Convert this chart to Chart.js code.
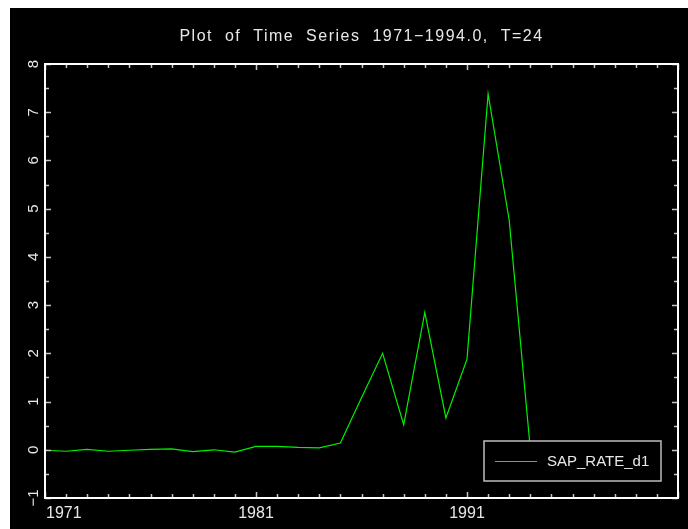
<!DOCTYPE html>
<html>
<head>
<meta charset="utf-8">
<style>
  html, body { margin: 0; padding: 0; background: #ffffff; overflow: hidden; }
  canvas { display: block; }
</style>
<script src="https://cdn.jsdelivr.net/npm/chart.js@4/dist/chart.umd.min.js"></script>
</head>
<body>
<canvas id="chart" width="688" height="529"></canvas>
<script>
// Annual series, first difference of SAP rate
const years = [1971, 1972, 1973, 1974, 1975, 1976, 1977, 1978, 1979, 1980, 1981, 1982,
               1983, 1984, 1985, 1986, 1987, 1988, 1989, 1990, 1991, 1992, 1993, 1994];
const sapRateD1 = [-0.01, -0.03, 0.01, -0.03, -0.01, 0.01, 0.02, -0.04, 0.00, -0.05, 0.07, 0.07,
                   0.05, 0.04, 0.14, 1.08, 2.00, 0.52, 2.85, 0.66, 1.88, 7.38, 4.76, 0.02];
const seriesName = 'SAP_RATE_d1';
const titleText = 'Plot of Time Series 1971\u22121994.0, T=24';

// Axis ranges and labelled ticks
const xRange = [1971, 2001];
const yRange = [-1, 8];
const xTickValues = [1971, 1981, 1991];
const xTickLabels = ['1971', '1981', '1991'];
const yTickValues = [-1, 0, 1, 2, 3, 4, 5, 6, 7, 8];
const yTickLabels = ['\u22121', '0', '1', '2', '3', '4', '5', '6', '7', '8'];

const FONT = '"Liberation Sans", Arial, sans-serif';
const TEXT = '#e8e8e8';
const LINE = '#00f000';

const framePlugin = {
  id: 'frame',
  beforeDraw(chart) {
    const ctx = chart.ctx;
    ctx.save();
    ctx.fillStyle = '#000000';
    ctx.fillRect(10, 8, chart.width - 10, chart.height - 8);
    ctx.restore();
  },
  afterDatasetsDraw(chart) {
    const { ctx, chartArea: a, scales: { x, y } } = chart;
    ctx.save();

    // inward tick marks on all four sides
    ctx.strokeStyle = '#c4c4c4';
    ctx.lineWidth = 1.5;
    ctx.beginPath();
    for (let yr = xRange[0]; yr <= xRange[1]; yr++) {
      const px = Math.round(x.getPixelForValue(yr)) + 0.5;
      const len = (yr - xRange[0]) % 10 === 0 ? 6 : 4;
      ctx.moveTo(px, a.bottom); ctx.lineTo(px, a.bottom - len);
      ctx.moveTo(px, a.top); ctx.lineTo(px, a.top + len);
    }
    for (let v = yRange[0]; v <= yRange[1] + 1e-9; v += 0.5) {
      const py = Math.round(y.getPixelForValue(v)) + 0.5;
      const len = Number.isInteger(v) ? 6 : 4;
      ctx.moveTo(a.left, py); ctx.lineTo(a.left + len, py);
      ctx.moveTo(a.right, py); ctx.lineTo(a.right - len, py);
    }
    ctx.stroke();

    // plot frame
    ctx.strokeStyle = '#ffffff';
    ctx.lineWidth = 2;
    ctx.strokeRect(a.left, a.top, a.right - a.left, a.bottom - a.top);

    // x tick labels
    ctx.fillStyle = TEXT;
    ctx.font = '16px ' + FONT;
    ctx.textBaseline = 'middle';
    xTickValues.forEach((v, i) => {
      const px = x.getPixelForValue(v);
      ctx.textAlign = i === 0 ? 'left' : 'center';
      ctx.fillText(xTickLabels[i], i === 0 ? px + 1 : px, a.bottom + 16);
    });

    // y tick labels, rotated
    ctx.font = '15px ' + FONT;
    ctx.textAlign = 'center';
    yTickValues.forEach((v, i) => {
      const py = y.getPixelForValue(v);
      ctx.save();
      ctx.translate(a.left - 11, py);
      ctx.rotate(-Math.PI / 2);
      ctx.fillText(yTickLabels[i], 0, 0);
      ctx.restore();
    });

    // legend box inside the lower right of the plot
    const ds = chart.data.datasets[0];
    const lw = 177, lh = 40;
    const lx = a.right - 17 - lw, ly = a.bottom - 17 - lh;
    ctx.fillStyle = '#000000';
    ctx.fillRect(lx, ly, lw, lh);
    ctx.strokeStyle = '#bdbdbd';
    ctx.lineWidth = 1.5;
    ctx.strokeRect(lx, ly, lw, lh);
    ctx.strokeStyle = ds.borderColor;
    ctx.lineWidth = 1.2;
    ctx.beginPath();
    ctx.moveTo(lx + 11, ly + 20.5);
    ctx.lineTo(lx + 53, ly + 20.5);
    ctx.stroke();
    ctx.fillStyle = TEXT;
    ctx.font = '15px ' + FONT;
    ctx.textAlign = 'left';
    ctx.fillText(ds.label, lx + 63, ly + 21);

    // title centred over the plot
    ctx.font = '16px ' + FONT;
    ctx.textAlign = 'center';
    ctx.letterSpacing = '1.5px';
    ctx.wordSpacing = '6px';
    ctx.fillText(titleText, (a.left + a.right) / 2, 37);
    ctx.restore();
  }
};

new Chart(document.getElementById('chart'), {
  type: 'line',
  data: {
    datasets: [{
      label: seriesName,
      data: years.map((yr, i) => ({ x: yr, y: sapRateD1[i] })),
      borderColor: LINE,
      borderWidth: 1.2,
      pointRadius: 0,
      tension: 0,
      fill: false
    }]
  },
  options: {
    responsive: false,
    animation: false,
    devicePixelRatio: 1,
    layout: { padding: { top: 64, right: 10, left: 0, bottom: 0 } },
    plugins: { legend: { display: false }, title: { display: false }, tooltip: { enabled: false } },
    scales: {
      x: {
        type: 'linear', min: xRange[0], max: xRange[1],
        grid: { display: false }, border: { display: false },
        ticks: { display: false },
        afterFit(s) { s.height = 31; }
      },
      y: {
        type: 'linear', min: yRange[0], max: yRange[1],
        grid: { display: false }, border: { display: false },
        ticks: { display: false },
        afterFit(s) { s.width = 45; }
      }
    }
  },
  plugins: [framePlugin]
});
</script>
</body>
</html>
